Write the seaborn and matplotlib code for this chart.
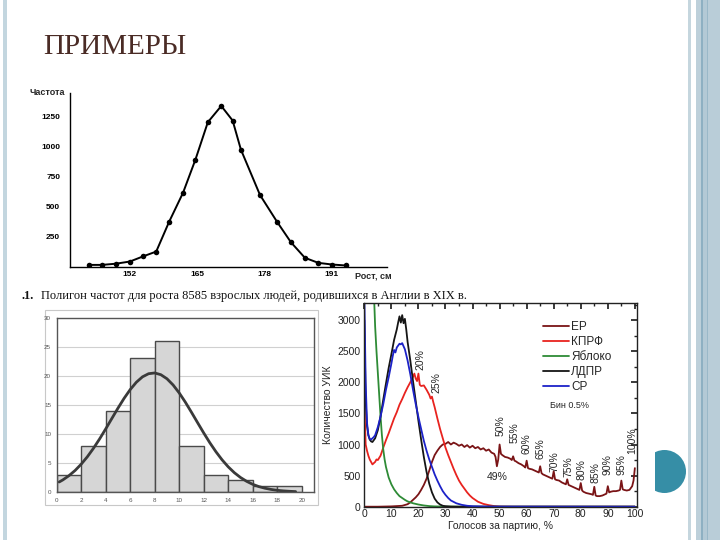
import matplotlib
matplotlib.use('Agg')  # no display
import matplotlib.pyplot as plt
from matplotlib.patches import Rectangle, Circle
from matplotlib.ticker import MultipleLocator, FixedLocator
import numpy as np
import pandas as pd
import seaborn as sns

# ---- top: frequency polygon of height ----
height_cm = [144.0, 146.6, 149.3, 152.0, 154.5, 157.1, 159.6, 162.3, 164.7, 167.1,
             169.7, 171.9, 173.5, 177.2, 180.5, 183.2, 185.9, 188.5, 191.2, 193.9]
height_freq = [15, 15, 25, 43, 85, 126, 374, 616, 892, 1203,
               1338, 1217, 975, 597, 374, 203, 74, 32, 18, 10]
height_ticks = [152, 165, 178, 191]
freq_ticks = [250, 500, 750, 1000, 1250]

# ---- bottom left: histogram with fitted curve ----
hist_edges = [0, 2, 4, 6, 8, 10, 12, 14, 16, 18, 20]
hist_counts = [3, 8, 14, 23, 26, 8, 3, 2, 1, 1]
curve_x = [0.2, 0.5, 1, 1.5, 2, 2.5, 3, 3.5, 4, 4.5, 5, 5.5, 6, 6.5, 7, 7.5, 8, 8.5, 9, 9.5,
           10, 10.5, 11, 11.5, 12, 12.5, 13, 13.5, 14, 14.5, 15, 15.5, 16, 16.5, 17, 17.5,
           18, 18.5, 19, 19.5]
curve_y = [1.72, 2.08, 2.81, 3.70, 4.79, 6.06, 7.52, 9.13, 10.86, 12.65, 14.43, 16.12,
           17.63, 18.89, 19.82, 20.36, 20.49, 20.19, 19.49, 18.42, 17.05, 15.46, 13.72,
           11.93, 10.16, 8.47, 6.92, 5.53, 4.33, 3.32, 2.50, 1.84, 1.32, 0.93, 0.65, 0.44,
           0.29, 0.19, 0.12, 0.07]

# ---- bottom right: election vote distributions ----
er_x = [0, 5, 10, 14, 16, 17, 18, 19, 20, 21, 22, 23, 24, 25, 26, 27, 28, 29, 30, 31, 32,
        33, 34, 35, 36, 37, 38, 39, 40, 41, 42, 43, 44, 45, 46, 47, 48, 48.5, 49, 49.5, 50,
        50.5, 51, 52, 53, 54, 54.5, 55, 55.5, 56, 57, 58, 59, 59.5, 60, 60.5, 61, 62, 63,
        64, 64.5, 65, 65.5, 66, 67, 68, 69, 69.5, 70, 70.5, 71, 72, 73, 74, 74.5, 75, 75.5,
        76, 77, 78, 79, 79.5, 80, 80.5, 81, 82, 83, 84, 84.5, 85, 85.5, 86, 87, 88, 89,
        89.5, 90, 90.5, 91, 92, 93, 94, 94.5, 95, 95.5, 96, 97, 98, 99, 99.5, 100]
er_y = [0, 0, 5, 15, 40, 70, 110, 150, 200, 270, 350, 450, 580, 720, 830, 900, 960, 1000,
        1010, 1040, 1000, 1030, 1010, 980, 1000, 960, 990, 950, 980, 940, 960, 920, 940,
        900, 920, 870, 850, 800, 650, 760, 1000, 850, 830, 800, 790, 770, 750, 810, 740,
        730, 700, 680, 650, 630, 740, 620, 610, 600, 580, 560, 550, 650, 540, 520, 500,
        480, 460, 450, 570, 440, 430, 420, 390, 370, 360, 440, 350, 340, 320, 300, 280,
        270, 380, 260, 240, 220, 210, 200, 190, 320, 180, 170, 170, 180, 200, 210, 330,
        230, 240, 250, 250, 260, 270, 420, 280, 270, 260, 270, 330, 420, 620]
kprf_x = [0, 0.5, 1, 1.5, 2, 2.5, 3, 3.5, 4, 4.5, 5, 6, 7, 8, 9, 10, 11, 12, 13, 14, 15,
          16, 17, 18, 18.5, 19, 19.5, 20, 20.5, 21, 22, 23, 24, 24.5, 25, 25.5, 26, 27, 28,
          29, 30, 31, 32, 33, 34, 35, 36, 37, 38, 39, 40, 42, 44, 46, 48, 50, 55, 100]
kprf_y = [1700, 1000, 900, 820, 760, 720, 680, 700, 720, 760, 750, 820, 950, 1070, 1180,
          1300, 1420, 1520, 1640, 1730, 1830, 1920, 2000, 2090, 2140, 2060, 2020, 2140,
          1960, 1940, 1950, 1880, 1800, 1740, 1770, 1680, 1600, 1420, 1250, 1100, 950, 830,
          720, 610, 510, 420, 350, 290, 230, 180, 140, 80, 45, 25, 10, 3, 0, 0]
yabloko_x = [0, 1, 2, 3, 3.5, 4, 4.5, 5, 5.5, 6, 6.5, 7, 7.5, 8, 9, 10, 11, 12, 13, 14, 15,
             16, 18, 20, 22, 24, 26, 30, 40, 100]
yabloko_y = [9000, 8000, 6000, 4200, 3500, 2900, 2500, 2150, 1800, 1450, 1150, 920, 760,
             640, 470, 360, 280, 220, 170, 140, 110, 85, 55, 35, 20, 10, 5, 2, 0, 0]
ldpr_x = [0, 0.5, 1, 1.5, 2, 2.5, 3, 3.5, 4, 5, 6, 7, 8, 9, 10, 11, 12, 12.5, 13, 13.5, 14,
          14.5, 15, 15.5, 16, 17, 18, 19, 20, 21, 22, 23, 24, 25, 26, 27, 28, 29, 30, 32,
          35, 100]
ldpr_y = [3000, 1700, 1300, 1150, 1080, 1050, 1040, 1070, 1100, 1230, 1450, 1720, 1980,
          2230, 2450, 2680, 2850, 2960, 3060, 2960, 3080, 2950, 3020, 2850, 2650, 2350,
          2020, 1700, 1380, 1080, 800, 560, 370, 230, 130, 70, 35, 15, 8, 2, 0, 0]
sr_x = [0, 0.5, 1, 1.5, 2, 2.5, 3, 3.5, 4, 5, 6, 7, 8, 9, 10, 10.5, 11, 11.5, 12, 12.5, 13,
        13.5, 14, 14.5, 15, 16, 17, 18, 19, 20, 21, 22, 23, 24, 25, 26, 27, 28, 29, 30, 31,
        32, 34, 36, 38, 40, 45, 100]
sr_y = [3400, 2000, 1350, 1150, 1090, 1080, 1100, 1120, 1150, 1280, 1450, 1650, 1880,
        2080, 2300, 2420, 2520, 2480, 2560, 2590, 2620, 2610, 2630, 2580, 2530, 2350, 2130,
        1880, 1650, 1440, 1250, 1060, 900, 760, 640, 520, 420, 330, 250, 190, 140, 100, 55,
        30, 15, 8, 2, 0]
parties = ['ЕР', 'КПРФ', 'Яблоко', 'ЛДПР', 'СР']
party_colors = ['#7a1416', '#e8231f', '#2e8b36', '#151515', '#1c22c8']
peak_labels = ['20%', '25%', '50%', '55%', '60%', '65%', '70%', '75%', '80%', '85%',
               '90%', '95%', '100%']
peak_x = [20.6, 26.6, 50.4, 55.4, 60.1, 65.3, 70.1, 75.3, 80.4, 85.6, 90.0, 95.2, 98.9]
peak_y = [2370, 1995, 1300, 1190, 1010, 930, 720, 640, 590, 545, 670, 670, 1060]

sns.set_theme(style='white')
plt.rcParams['font.family'] = ['Liberation Sans', 'DejaVu Sans']

W, H = 720, 540
fig = plt.figure(figsize=(7.2, 5.4), dpi=100)


def box(x0, y0, x1, y1):
    # pixel box (origin top-left) -> figure fraction rect
    return [x0 / W, 1 - y1 / H, (x1 - x0) / W, (y1 - y0) / H]


# slide background: pixel-coordinate axes
bg = fig.add_axes([0, 0, 1, 1])
bg.set_xlim(0, W)
bg.set_ylim(H, 0)
bg.axis('off')
stripes = [(3, 7, '#c3d6df'), (688, 691, '#c5d6de'), (696, 701, '#bdd0da'),
           (701, 703, '#8eb0c2'), (703, 707, '#b3c9d5'), (707, 708, '#9ab8c8'),
           (708, 720, '#b9cdd8')]
for x0, x1, c in stripes:
    bg.add_patch(Rectangle((x0, 0), x1 - x0, H, color=c, lw=0))
dot = Circle((664.5, 471.5), 21.5, color='#368ea6', lw=0)
bg.add_patch(dot)
dot.set_clip_path(Rectangle((655, 440), 40, 70, transform=bg.transData))
bg.add_patch(Rectangle((45, 310), 273, 195, fill=False, ec='#c8c8c8', lw=0.8))
bg.text(43, 47, 'ПРИМЕРЫ', family='Liberation Serif', fontsize=21, color='#4a2b25',
        va='center', ha='left')
bg.text(21, 296, '.1.', family='Liberation Serif', fontsize=9, fontweight='bold',
        va='center', ha='left', color='#111')
bg.text(41, 296, 'Полигон частот для роста 8585 взрослых людей, родившихся в Англии в XIX в.',
        family='Liberation Serif', fontsize=9, va='center', ha='left', color='#111')

# ---- top chart ----
ax1 = fig.add_axes(box(70, 93, 387, 266.7))
sns.lineplot(x=height_cm, y=height_freq, ax=ax1, color='black', lw=1.4, marker='o',
             markersize=4, markeredgewidth=0, estimator=None)
ax1.set_xlim(140.4, 201.8)
ax1.set_ylim(0, 1446)
ax1.set_xticks(height_ticks)
ax1.xaxis.set_minor_locator(FixedLocator(np.arange(152, 197, 2.6)))
ax1.set_yticks(freq_ticks)
for s in ['top', 'right']:
    ax1.spines[s].set_visible(False)
for s in ['left', 'bottom']:
    ax1.spines[s].set_color('black')
    ax1.spines[s].set_linewidth(1.0)
ax1.tick_params(axis='y', direction='out', length=4, width=1, colors='black', labelsize=6, pad=3)
ax1.tick_params(axis='x', which='both', direction='in', width=1, colors='black', labelsize=6, pad=3)
ax1.tick_params(axis='x', which='major', length=5)
ax1.tick_params(axis='x', which='minor', length=3.5)
for lab in ax1.get_xticklabels() + ax1.get_yticklabels():
    lab.set_fontweight('bold')
ax1.text(-0.015, 1.0, 'Частота', transform=ax1.transAxes, ha='right', va='center',
         fontsize=6.5, fontweight='bold')
ax1.text(0.9, -0.055, 'Рост, см', transform=ax1.transAxes, ha='left', va='center',
         fontsize=6.5, fontweight='bold')

# ---- histogram ----
ax2 = fig.add_axes(box(56.7, 317.7, 314, 492))
centers = [(a + b) / 2 for a, b in zip(hist_edges[:-1], hist_edges[1:])]
sns.histplot(x=centers, weights=hist_counts, bins=hist_edges, ax=ax2, color='#d6d6d6',
             edgecolor='#4a4a4a', linewidth=1.0, alpha=1)
sns.lineplot(x=curve_x, y=curve_y, ax=ax2, color='#3a3a3a', lw=2, estimator=None)
ax2.set_xlim(0, 21)
ax2.set_ylim(0, 30)
ax2.set_xticks(hist_edges)
ax2.set_yticks(range(0, 31, 5))
ax2.yaxis.grid(True, color='#d0d0d0', lw=0.8)
ax2.set_axisbelow(True)
ax2.set_xlabel('')
ax2.set_ylabel('')
for s in ax2.spines.values():
    s.set_color('#555555')
    s.set_linewidth(1.0)
ax2.tick_params(labelsize=4.5, colors='#555555', length=2, pad=2)

# ---- election chart ----
ax3 = fig.add_axes(box(363.5, 303, 636.5, 506.7))
series = [(er_x, er_y), (kprf_x, kprf_y), (yabloko_x, yabloko_y), (ldpr_x, ldpr_y), (sr_x, sr_y)]
frames = [pd.DataFrame({'x': xs, 'y': ys, 'party': p}) for p, (xs, ys) in zip(parties, series)]
votes = pd.concat(frames, ignore_index=True)
sns.lineplot(data=votes, x='x', y='y', hue='party', hue_order=parties,
             palette=dict(zip(parties, party_colors)), ax=ax3, lw=1.3, estimator=None)
ax3.set_xlim(-0.3, 100.6)
ax3.set_ylim(0, 3275)
ax3.set_xticks(range(0, 101, 10))
ax3.set_yticks(range(0, 3001, 500))
ax3.xaxis.set_minor_locator(MultipleLocator(5))
ax3.yaxis.set_minor_locator(MultipleLocator(250))
for s in ax3.spines.values():
    s.set_color('#222222')
    s.set_linewidth(1.0)
ax3.tick_params(which='both', direction='in', top=True, right=True, colors='#222222',
                labelsize=7.5, pad=2)
ax3.tick_params(which='major', length=4)
ax3.tick_params(which='minor', length=2.5)
ax3.set_xlabel('Голосов за партию, %', fontsize=7.5, labelpad=1)
ax3.set_ylabel('Количество УИК', fontsize=7.5, labelpad=3)
ax3.legend(loc='upper left', bbox_to_anchor=(0.635, 0.94), frameon=False, fontsize=8.5,
           handlelength=2.2, handletextpad=0.2, borderpad=0, labelspacing=0.25)
ax3.text(0.683, 0.497, 'Бин 0.5%', transform=ax3.transAxes, fontsize=6.5, ha='left', va='center')
for lab, px, py in zip(peak_labels, peak_x, peak_y):
    ax3.text(px, py, lab, rotation=90, ha='center', va='center', fontsize=7.5)
ax3.text(49, 479, '49%', ha='center', va='center', fontsize=7.5)

fig.savefig('out.png', dpi=100)
